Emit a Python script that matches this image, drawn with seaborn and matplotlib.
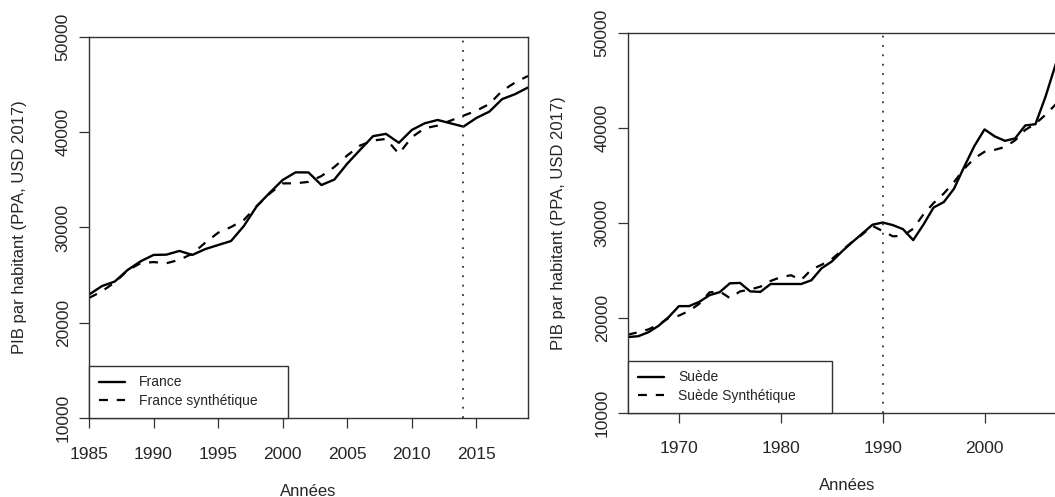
import matplotlib
matplotlib.use("Agg")
import matplotlib.pyplot as plt
import seaborn as sns
import pandas as pd

# ---------------- data ----------------
france_years = list(range(1985, 2020))
france_actual = [22950, 23850, 24330, 25550, 26450, 27120, 27150, 27540, 27120, 27730,
                 28160, 28580, 30170, 32250, 33650, 34990, 35790, 35780, 34460, 35030,
                 36700, 38160, 39590, 39830, 38890, 40240, 40940, 41290, 40940, 40590,
                 41500, 42160, 43480, 44000, 44700]
france_synth = [22600, 23300, 24240, 25500, 26260, 26370, 26250, 26600, 27250, 28400,
                29450, 30050, 30800, 32250, 33570, 34630, 34640, 34790, 35400, 36350,
                37560, 38610, 39130, 39300, 37740, 39480, 40420, 40700, 41220, 41740,
                42260, 42960, 44350, 45220, 45910]
france_treat_year = 2014
france_xticks = [1985, 1990, 1995, 2000, 2005, 2010, 2015]
france_labels = ["France", "France synthétique"]

sweden_years = list(range(1965, 2009))
sweden_actual = [18000, 18080, 18500, 19180, 20100, 21250, 21250, 21700, 22400, 22720,
                 23650, 23690, 22800, 22750, 23580, 23580, 23580, 23580, 23970, 25230,
                 25940, 27000, 27970, 28890, 29820, 30050, 29780, 29350, 28200, 29820,
                 31630, 32200, 33600, 35900, 38100, 39850, 39120, 38650, 38900, 40270,
                 40400, 43330, 46750, 49500]
sweden_synth = [18250, 18500, 18800, 19300, 20000, 20250, 20750, 21500, 22700, 22800,
                22100, 22800, 23000, 23300, 23900, 24300, 24500, 24000, 25100, 25600,
                26200, 27100, 28000, 28800, 29700, 29150, 28600, 28650, 29400, 30900,
                32100, 33100, 34300, 35700, 36800, 37500, 37700, 38000, 38700, 39800,
                40450, 41400, 42500, 43500]
sweden_treat_year = 1990
sweden_xticks = [1970, 1980, 1990, 2000]
sweden_labels = ["Suède", "Suède Synthétique"]

yticks = [10000, 20000, 30000, 40000, 50000]
ylabel = "PIB par habitant (PPA, USD 2017)"
xlabel = "Années"

# ---------------- style ----------------
sns.set_theme(style="white")
plt.rcParams["font.family"] = ["Liberation Sans", "DejaVu Sans"]

W, H = 1055, 497
fig = plt.figure(figsize=(W / 100, H / 100), dpi=100)

def px_axes(x0, y0, x1, y1):
    return fig.add_axes([x0 / W, 1 - y1 / H, (x1 - x0) / W, (y1 - y0) / H])

ax1 = px_axes(89, 37, 528, 418)
ax2 = px_axes(628, 33, 1066, 413)

def draw(ax, years, actual, synth, labels, treat, xlim, xticks, leg_w_px, leg_h_px,
         xpad, xlab_y, ylab_x):
    df = pd.DataFrame({"year": years, "a": actual, "s": synth})
    sns.lineplot(data=df, x="year", y="a", ax=ax, color="black", lw=1.7,
                 label=labels[0])
    sns.lineplot(data=df, x="year", y="s", ax=ax, color="black", lw=1.6,
                 dashes=(4, 4), label=labels[1])
    ax.axvline(treat, color="#333333", lw=1.3, linestyle=(0, (1, 4.2)))
    ax.set_xlim(*xlim)
    ax.set_ylim(10000, 50000)
    ax.set_xticks(xticks)
    ax.set_yticks(yticks)
    ax.set_yticklabels([str(v) for v in yticks], rotation=90, va="center")
    ax.tick_params(axis="both", which="major", direction="out", length=7.2,
                   width=0.9, color="#333333", labelsize=12.5, bottom=True, left=True)
    ax.tick_params(axis="x", pad=xpad)
    ax.tick_params(axis="y", pad=6)
    for s in ax.spines.values():
        s.set_color("#333333")
        s.set_linewidth(1.0)
    ax.set_xlabel(xlabel, fontsize=12)
    ax.set_ylabel(ylabel, fontsize=12)
    ax.xaxis.set_label_coords(0.5, xlab_y)
    ax.xaxis.label.set_va("center")
    ax.yaxis.set_label_coords(ylab_x, 0.5)
    ax.yaxis.label.set_va("center")
    bb = ax.get_position()
    wfrac = leg_w_px / (bb.width * W)
    hfrac = leg_h_px / (bb.height * H)
    leg = ax.legend(loc="lower left", bbox_to_anchor=(0, 0, wfrac, hfrac),
                    mode="expand", borderaxespad=0, fancybox=False,
                    edgecolor="#333333", framealpha=1, fontsize=10,
                    handlelength=1.9, handletextpad=1.0, borderpad=0.7,
                    labelspacing=0.35)
    leg.get_frame().set_linewidth(1.0)
    return ax

draw(ax1, france_years, france_actual, france_synth, france_labels,
     france_treat_year, (1985, 2019), france_xticks, 199, 52,
     13.5, -0.192, (20 - 89) / 439)
draw(ax2, sweden_years, sweden_actual, sweden_synth, sweden_labels,
     sweden_treat_year, (1965, 2008), sweden_xticks, 204, 52,
     13.0, -0.192, (558 - 628) / 438)

fig.savefig("out.png", dpi=100)
